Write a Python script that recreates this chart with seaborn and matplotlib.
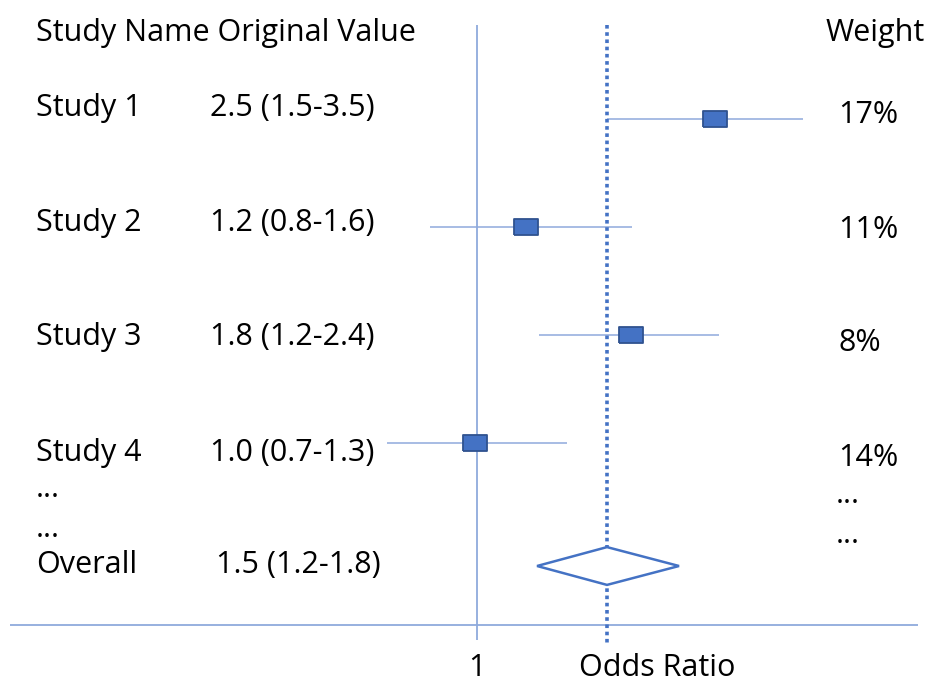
import numpy as np
import pandas as pd
import seaborn as sns
import matplotlib.pyplot as plt

# forest plot, slide style

studies = ["Study 1", "Study 2", "Study 3", "Study 4"]
or_labels = ["2.5 (1.5-3.5)", "1.2 (0.8-1.6)", "1.8 (1.2-2.4)", "1.0 (0.7-1.3)"]
weights = ["17%", "11%", "8%", "14%"]
# positions as drawn on the odds ratio axis
est = [1.915, 1.188, 1.592, 0.992]
lo = [1.50, 0.819, 1.238, 0.654]
hi = [2.254, 1.596, 1.931, 1.346]
overall_label = "1.5 (1.2-1.8)"
overall_est, overall_lo, overall_hi = 1.5, 1.231, 1.777

W, H = 944, 689
sns.set_theme(style="white")
plt.rcParams["font.family"] = ["Open Sans", "DejaVu Sans"]

fig = plt.figure(figsize=(W / 100, H / 100), dpi=100)
ax = fig.add_axes([0, 0, 1, 1])
ax.set_xlim(1 - 477 / 260, 1 + 467 / 260)
ax.set_ylim((689 - 119) / 108, -119 / 108)
ax.axis("off")

df = pd.DataFrame({"study": studies, "est": est, "lo": lo, "hi": hi,
                   "row": np.arange(len(studies))})

light = "#8FAADC"
blue = "#4472C4"

ax.hlines(df["row"], df["lo"], df["hi"], color=light, lw=1.1, zorder=2)
rect = [(-1.45, -1), (1.45, -1), (1.45, 1), (-1.45, 1), (-1.45, -1)]
sns.scatterplot(data=df, x="est", y="row", marker=rect, s=290, color=blue,
                edgecolor="#2F528F", linewidth=1.3, zorder=4, ax=ax, legend=False)

# reference lines
ax.vlines(1.0, -0.87, 4.82, color=light, lw=1.3, zorder=1)
ax.vlines(overall_est, -0.87, 4.85, color=blue, lw=2.6, linestyles=(0, (1, 1)), zorder=3)
ax.hlines(4.685, 1 + (10 - 477) / 260, 1 + (918 - 477) / 260, color=light, lw=1.3)

# overall diamond
oy = (566 - 119) / 108
dh = 0.175
ax.fill([overall_lo, overall_est, overall_hi, overall_est, overall_lo],
        [oy, oy - dh, oy, oy + dh, oy], facecolor="white", edgecolor=blue, lw=1.8, zorder=5)


def put(x, y, s, ha="left"):
    fig.text(x / W, 1 - y / H, s, ha=ha, va="baseline", fontsize=22, color="black")


put(36, 41, "Study Name Original Value")
put(826, 41, "Weight")
name_y = [116, 231, 345, 461]
w_y = [123, 238, 351, 466]
for name, lab, w, y1, y2 in zip(studies, or_labels, weights, name_y, w_y):
    put(36, y1, name)
    put(210, y1, lab)
    put(838, y2, w)
put(36, 497, "...")
put(36, 537, "...")
put(836, 503, "...")
put(836, 543, "...")
put(36, 573, "Overall")
put(216, 573, overall_label)
put(477, 676, "1", ha="center")
put(657, 676, "Odds Ratio", ha="center")

fig.savefig("out.png", dpi=100)
